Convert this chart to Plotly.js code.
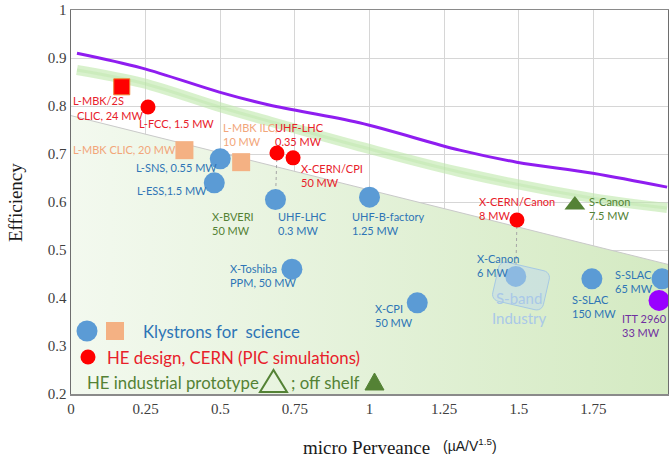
<!DOCTYPE html>
<html><head><meta charset="utf-8">
<script src="https://cdn.plot.ly/plotly-3.0.1.min.js"></script>
<style>html,body{margin:0;padding:0;background:#fff}#chart{width:669px;height:457px}</style>
</head><body><div id="chart"></div>
<script>
// ---------- data ----------
const scienceNames = ['L-SNS, 0.55 MW','L-ESS,1.5 MW','UHF-LHC 0.3 MW','UHF-B-factory 1.25 MW','X-Toshiba PPM, 50 MW','X-CPI 50 MW','X-Canon 6 MW','S-SLAC 150 MW','S-SLAC 65 MW'];
const scienceX = [0.50, 0.48, 0.685, 1.00, 0.74, 1.16, 1.49, 1.745, 1.98];
const scienceY = [0.69, 0.64, 0.605, 0.61, 0.46, 0.39, 0.445, 0.44, 0.44];
const mbkNames = ['L-MBK CLIC, 20 MW','L-MBK ILC, 10 MW'];
const mbkX = [0.38, 0.57];
const mbkY = [0.708, 0.683];
const mbk2sNames = ['L-MBK/2S CLIC, 24 MW'];
const mbk2sX = [0.17];
const mbk2sY = [0.84];
const cernNames = ['L-FCC, 1.5 MW','UHF-LHC 0.35 MW','X-CERN/CPI 50 MW','X-CERN/Canon 8 MW'];
const cernX = [0.258, 0.69, 0.744, 1.494];
const cernY = [0.798, 0.702, 0.692, 0.5625];
const protoNames = ['X-BVERI 50 MW'];
const protoX = [0.583];
const protoY = [0.606];
const shelfNames = ['S-Canon 7.5 MW'];
const shelfX = [1.688];
const shelfY = [0.594];
const ittNames = ['ITT 2960 33 MW'];
const ittX = [1.97];
const ittY = [0.395];
const limitX = [0.02, 0.238, 0.497, 0.664, 0.966, 1.302, 1.493, 1.748, 1.997];
const limitY = [0.910, 0.879, 0.829, 0.802, 0.765, 0.708, 0.683, 0.660, 0.631];
const bandX = [0.02, 0.238, 0.497, 0.648, 0.966, 1.302, 1.748, 1.997];
const bandY = [0.875, 0.848, 0.798, 0.771, 0.716, 0.6625, 0.608, 0.5875];
const zoneX = [0, 2];
const zoneY = [0.78, 0.47];
const xTicks = [0, 0.25, 0.5, 0.75, 1, 1.25, 1.5, 1.75, 2];
const xTickText = ['0','0.25','0.5','0.75','1','1.25','1.5','1.75','2'];
const yTicks = [0.2, 0.3, 0.4, 0.5, 0.6, 0.7, 0.8, 0.9, 1];
const yTickText = ['0.2','0.3','0.4','0.5','0.6','0.7','0.8','0.9','1'];

// ---------- styling ----------
const BLUE = '#5b9bd5', BLUE_T = '#2e75b6', ORANGE = '#f4b183', ORANGE_T = '#f2a67a',
      RED = '#ff0000', RED_T = '#e8202a', GREEN = '#548235', PURPLE = '#9900ff', PURPLE_T = '#7030a0';
const LBL = 'Lato, "Open Sans", sans-serif';
const SERIF = '"Liberation Serif", "DejaVu Serif", serif';

// pixel helpers (plot area: x 71..668, y 10..394)
const L = 71, R = 668, T = 10, B = 394;
const dx = px => (px - L) / 298.5;
const dy = py => 1 - (py - T) / 480;
const pxp = px => (px - L) / (R - L);
const pyp = py => (B - py) / (B - T);

const traces = [];
traces.push({x: zoneX, y: zoneY, mode: 'lines', fill: 'tozeroy',
  line: {color: '#c9c9c9', width: 1},
  fillgradient: {type: 'horizontal', colorscale: [[0, 'rgb(243,249,239)'], [1, 'rgb(212,234,194)']]},
  hoverinfo: 'skip'});
traces.push({x: bandX, y: bandY, mode: 'lines', line: {color: 'rgba(190,232,170,0.6)', width: 10, shape: 'spline'}, hoverinfo: 'skip'});
traces.push({x: bandX, y: bandY, mode: 'lines', line: {color: 'rgba(175,224,155,0.3)', width: 3, shape: 'spline'}, hoverinfo: 'skip'});
traces.push({x: limitX, y: limitY, mode: 'lines', line: {color: '#8f1df0', width: 3, shape: 'spline'}, hoverinfo: 'skip'});
// dotted connectors between related devices
traces.push({x: [cernX[1], scienceX[2]], y: [cernY[1], scienceY[2]], mode: 'lines', line: {color: '#a6a6a6', width: 1, dash: 'dot'}});
traces.push({x: [cernX[3], scienceX[6]], y: [cernY[3], scienceY[6]], mode: 'lines', line: {color: '#a6a6a6', width: 1, dash: 'dot'}});
// markers
traces.push({x: scienceX, y: scienceY, text: scienceNames, mode: 'markers', cliponaxis: false, marker: {color: BLUE, size: 21}});
traces.push({x: mbkX, y: mbkY, text: mbkNames, mode: 'markers', marker: {color: ORANGE, size: 18, symbol: 'square'}});
traces.push({x: mbk2sX, y: mbk2sY, text: mbk2sNames, mode: 'markers', marker: {color: RED, size: 16, symbol: 'square', line: {color: '#f08030', width: 1}}});
traces.push({x: cernX, y: cernY, text: cernNames, mode: 'markers', marker: {color: RED, size: 15}});
traces.push({x: protoX, y: protoY, text: protoNames, mode: 'markers', marker: {color: 'rgba(0,0,0,0)', size: 19, symbol: 'triangle-up-open', line: {color: GREEN, width: 2.5}}});
traces.push({x: shelfX, y: shelfY, text: shelfNames, mode: 'markers', marker: {color: GREEN, size: 18, symbol: 'triangle-up'}});
traces.push({x: ittX, y: ittY, text: ittNames, mode: 'markers', cliponaxis: false, marker: {color: PURPLE, size: 21}});

// ---------- labels ----------
const labels = [
  ['L-MBK/2S', 72, 100, RED_T], ['CLIC, 24 MW', 76, 115, RED_T],
  ['L-FCC, 1.5 MW', 138, 123, RED_T],
  ['L-MBK CLIC, 20 MW', 72, 149, ORANGE_T],
  ['L-SNS, 0.55 MW', 135, 167, BLUE_T],
  ['L-ESS,1.5 MW', 136, 190, BLUE_T],
  ['L-MBK ILC,<br>10 MW', 222, 134.5, ORANGE_T],
  ['UHF-LHC<br>0.35 MW', 274, 134.5, RED_T],
  ['X-CERN/CPI<br>50 MW', 300, 175, RED_T],
  ['X-BVERI<br>50 MW', 211, 223.5, GREEN],
  ['UHF-LHC<br>0.3 MW', 277, 223.5, BLUE_T],
  ['UHF-B-factory<br>1.25 MW', 351, 223.5, BLUE_T],
  ['X-Toshiba<br>PPM, 50 MW', 229, 275.5, BLUE_T],
  ['X-CPI<br>50 MW', 374, 315.5, BLUE_T],
  ['X-CERN/Canon<br>8 MW', 478, 208.5, RED_T],
  ['S-Canon<br>7.5 MW', 588, 208.5, GREEN],
  ['X-Canon<br>6 MW', 476, 265, BLUE_T],
  ['S-SLAC<br>150 MW', 571, 306, BLUE_T],
  ['S-SLAC<br>65 MW', 614, 281, BLUE_T],
  ['ITT 2960<br>33 MW', 621, 325.5, PURPLE_T]
];
const annotations = labels.map(([t, px, py, c]) => ({
  text: t, x: dx(px), y: dy(py), xref: 'x', yref: 'y', xanchor: 'left', yanchor: 'middle',
  align: 'left', showarrow: false, borderpad: 0, font: {family: LBL, size: 11, color: c}
}));
annotations.push({text: 'S-band<br>Industry', x: dx(519), y: dy(307.5), xref: 'x', yref: 'y', xanchor: 'center', yanchor: 'middle',
  align: 'center', showarrow: false, borderpad: 0, font: {family: LBL, size: 15, color: '#a9c8e8'}});
// legend texts
const legendTexts = [
  ['Klystrons for  science', 142, 331, BLUE_T],
  ['HE design, CERN (PIC simulations)', 106, 357, RED_T],
  ['HE industrial prototype', 86, 382, GREEN],
  ['; off shelf', 290, 382, GREEN]
];
legendTexts.forEach(([t, px, py, c]) => annotations.push({
  text: t, x: pxp(px), y: pyp(py), xref: 'paper', yref: 'paper', xanchor: 'left', yanchor: 'middle',
  showarrow: false, borderpad: 0, font: {family: LBL, size: 16.8, color: c}
}));
// axis titles
annotations.push({text: 'micro Perveance', x: pxp(366), y: pyp(447), xref: 'paper', yref: 'paper', xanchor: 'center', yanchor: 'middle',
  showarrow: false, font: {family: SERIF, size: 19, color: '#1a1a1a'}});
annotations.push({text: '(µA/V<sup>1.5</sup>)', x: pxp(441), y: pyp(445), xref: 'paper', yref: 'paper', xanchor: 'left', yanchor: 'middle',
  showarrow: false, font: {family: '"Liberation Sans", Arial, sans-serif', size: 14, color: '#1a1a1a'}});
annotations.push({text: 'Efficiency', x: pxp(15), y: pyp(203), xref: 'paper', yref: 'paper', xanchor: 'center', yanchor: 'middle',
  textangle: -90, showarrow: false, font: {family: SERIF, size: 19, color: '#1a1a1a'}});

// ---------- shapes ----------
const shapes = [];
function circle(cx, cy, r, color) {
  shapes.push({type: 'circle', xref: 'paper', yref: 'paper', x0: pxp(cx - r), x1: pxp(cx + r), y0: pyp(cy + r), y1: pyp(cy - r),
    fillcolor: color, line: {width: 0}});
}
function poly(pts, fill, line, lw) {
  const d = pts.map((p, i) => (i ? 'L' : 'M') + pxp(p[0]).toFixed(5) + ',' + pyp(p[1]).toFixed(5)).join(' ') + ' Z';
  shapes.push({type: 'path', xref: 'paper', yref: 'paper', path: d, fillcolor: fill, line: {color: line, width: lw}});
}
// S-band industry rounded box (rotated)
(function () {
  const cx = 521, cy = 286, w = 52, h = 40, r = 7, ang = 13 * Math.PI / 180, pts = [];
  const corners = [[w / 2 - r, -h / 2 + r, -90], [w / 2 - r, h / 2 - r, 0], [-w / 2 + r, h / 2 - r, 90], [-w / 2 + r, -h / 2 + r, 180]];
  corners.forEach(([ox, oy, a0]) => {
    for (let k = 0; k <= 6; k++) {
      const a = (a0 + k * 15) * Math.PI / 180;
      const x = ox + r * Math.cos(a), y = oy + r * Math.sin(a);
      pts.push([cx + x * Math.cos(ang) - y * Math.sin(ang), cy + x * Math.sin(ang) + y * Math.cos(ang)]);
    }
  });
  poly(pts, 'rgba(189,215,238,0.5)', 'rgba(157,195,230,0.85)', 1);
})();
// legend icons
circle(87, 331, 10.5, BLUE);
shapes.push({type: 'rect', xref: 'paper', yref: 'paper', x0: pxp(106), x1: pxp(124), y0: pyp(340), y1: pyp(322), fillcolor: ORANGE, line: {width: 0}});
circle(88, 357, 7.5, RED);
poly([[260, 392], [287, 392], [273.5, 370]], 'rgba(0,0,0,0)', GREEN, 2);
poly([[365, 390], [384, 390], [374.5, 373]], GREEN, GREEN, 1);

const layout = {
  width: 669, height: 457,
  margin: {l: L, r: 669 - R, t: T, b: 457 - B},
  paper_bgcolor: '#ffffff', plot_bgcolor: '#ffffff',
  showlegend: false, hovermode: false,
  xaxis: {range: [0, 2], tickvals: xTicks, ticktext: xTickText, showgrid: true, gridcolor: '#d6d6d6', gridwidth: 1,
    showline: true, linecolor: '#8a8a8a', linewidth: 1.5, mirror: true, zeroline: false, ticks: '',
    tickfont: {family: SERIF, size: 15, color: '#404040'}},
  yaxis: {range: [0.2, 1], tickvals: yTicks, ticktext: yTickText, showgrid: true, gridcolor: '#d6d6d6', gridwidth: 1,
    showline: true, linecolor: '#6e6e6e', linewidth: 1.5, mirror: true, zeroline: false, ticks: '',
    tickfont: {family: SERIF, size: 15, color: '#404040'}},
  annotations: annotations,
  shapes: shapes
};
Plotly.newPlot('chart', traces, layout, {displayModeBar: false, staticPlot: true});
</script></body></html>
